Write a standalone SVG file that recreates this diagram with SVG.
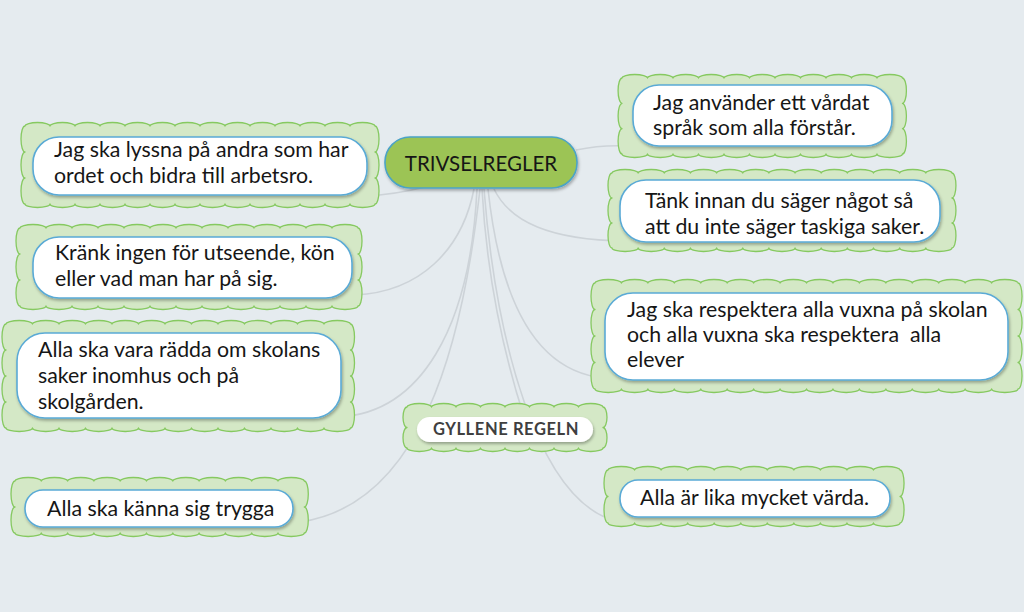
<svg xmlns="http://www.w3.org/2000/svg" width="1024" height="612" viewBox="0 0 1024 612">
<defs>
<filter id="sh" x="-10%" y="-20%" width="120%" height="160%"><feDropShadow dx="1" dy="2" stdDeviation="1.5" flood-color="#000" flood-opacity="0.3"/></filter>
<style>
.cloud{fill:#d4e8c6;stroke:#86c960;stroke-width:1.3;stroke-linejoin:round}
.pill{fill:#fff;stroke:#5aaad6;stroke-width:1.6;filter:url(#sh)}
.t{font-family:Lato,"Noto Sans","DejaVu Sans",sans-serif;font-size:21.3px;fill:#161616}
.c{fill:none;stroke:#cdd3d8;stroke-width:1.6}
</style>
</defs>
<rect width="1024" height="612" fill="#e5ebef"/>
<g id="connectors">
<path class="c" d="M425 187 C405 192 390 195 365 196"/>
<path class="c" d="M576 150 C595 146 608 145 628 146"/>
<path class="c" d="M494 189 C510 222 550 240 625 241"/>
<path class="c" d="M474 189 C462 250 420 292 355 295"/>
<path class="c" d="M477 189 C470 330 420 412 340 417"/>
<path class="c" d="M480 189 C462 350 420 505 300 522"/>
<path class="c" d="M482 189 C488 300 512 380 525 420"/>
<path class="c" d="M484 189 C495 330 535 505 620 522"/>
<path class="c" d="M488 189 C500 300 535 372 605 378"/>
</g>
<g id="center">
<rect x="385" y="137" width="192" height="51" rx="25" fill="#9cc454" stroke="#4ba3c6" stroke-width="1.6" filter="url(#sh)"/>
<text x="481" y="171" text-anchor="middle" class="t" style="font-size:20.5px">TRIVSELREGLER</text>
</g>
<g id="n1">
<path class="cloud" d="M25 126a12.5 3.5 0 0 1 25 0a12.5 3.5 0 0 1 25 0a12.5 3.5 0 0 1 25 0a12.5 3.5 0 0 1 25 0a12.5 3.5 0 0 1 25 0a12.5 3.5 0 0 1 25 0a12.5 3.5 0 0 1 25 0a12.5 3.5 0 0 1 25 0a12.5 3.5 0 0 1 25 0a12.5 3.5 0 0 1 25 0a12.5 3.5 0 0 1 25 0a12.5 3.5 0 0 1 25 0a12.5 3.5 0 0 1 25 0a12.5 3.5 0 0 1 25 0a4 13 0 0 1 0 26a4 13 0 0 1 0 26a4 13 0 0 1 0 26a12.5 3.5 0 0 1 -25 0a12.5 3.5 0 0 1 -25 0a12.5 3.5 0 0 1 -25 0a12.5 3.5 0 0 1 -25 0a12.5 3.5 0 0 1 -25 0a12.5 3.5 0 0 1 -25 0a12.5 3.5 0 0 1 -25 0a12.5 3.5 0 0 1 -25 0a12.5 3.5 0 0 1 -25 0a12.5 3.5 0 0 1 -25 0a12.5 3.5 0 0 1 -25 0a12.5 3.5 0 0 1 -25 0a12.5 3.5 0 0 1 -25 0a12.5 3.5 0 0 1 -25 0a4 13 0 0 1 0 -26a4 13 0 0 1 0 -26a4 13 0 0 1 0 -26z"/>
<rect class="pill" x="33" y="137" width="334" height="58" rx="26"/>
<text class="t" x="54" y="157">Jag ska lyssna på andra som har</text>
<text class="t" x="54" y="183">ordet och bidra till arbetsro.</text>
</g>
<g id="n2">
<path class="cloud" d="M20 228a13 3.5 0 0 1 26 0a13 3.5 0 0 1 26 0a13 3.5 0 0 1 26 0a13 3.5 0 0 1 26 0a13 3.5 0 0 1 26 0a13 3.5 0 0 1 26 0a13 3.5 0 0 1 26 0a13 3.5 0 0 1 26 0a13 3.5 0 0 1 26 0a13 3.5 0 0 1 26 0a13 3.5 0 0 1 26 0a13 3.5 0 0 1 26 0a13 3.5 0 0 1 26 0a4 13 0 0 1 0 26a4 13 0 0 1 0 26a4 13 0 0 1 0 26a13 3.5 0 0 1 -26 0a13 3.5 0 0 1 -26 0a13 3.5 0 0 1 -26 0a13 3.5 0 0 1 -26 0a13 3.5 0 0 1 -26 0a13 3.5 0 0 1 -26 0a13 3.5 0 0 1 -26 0a13 3.5 0 0 1 -26 0a13 3.5 0 0 1 -26 0a13 3.5 0 0 1 -26 0a13 3.5 0 0 1 -26 0a13 3.5 0 0 1 -26 0a13 3.5 0 0 1 -26 0a4 13 0 0 1 0 -26a4 13 0 0 1 0 -26a4 13 0 0 1 0 -26z"/>
<rect class="pill" x="33" y="237" width="319" height="61" rx="26"/>
<text class="t" x="55" y="260">Kränk ingen för utseende, kön</text>
<text class="t" x="55" y="286">eller vad man har på sig.</text>
</g>
<g id="n3">
<path class="cloud" d="M6 324a13.25 3.5 0 0 1 26.5 0a13.25 3.5 0 0 1 26.5 0a13.25 3.5 0 0 1 26.5 0a13.25 3.5 0 0 1 26.5 0a13.25 3.5 0 0 1 26.5 0a13.25 3.5 0 0 1 26.5 0a13.25 3.5 0 0 1 26.5 0a13.25 3.5 0 0 1 26.5 0a13.25 3.5 0 0 1 26.5 0a13.25 3.5 0 0 1 26.5 0a13.25 3.5 0 0 1 26.5 0a13.25 3.5 0 0 1 26.5 0a13.25 3.5 0 0 1 26.5 0a4 13 0 0 1 0 26a4 13 0 0 1 0 26a4 13 0 0 1 0 26a4 13 0 0 1 0 26a13.25 3.5 0 0 1 -26.5 0a13.25 3.5 0 0 1 -26.5 0a13.25 3.5 0 0 1 -26.5 0a13.25 3.5 0 0 1 -26.5 0a13.25 3.5 0 0 1 -26.5 0a13.25 3.5 0 0 1 -26.5 0a13.25 3.5 0 0 1 -26.5 0a13.25 3.5 0 0 1 -26.5 0a13.25 3.5 0 0 1 -26.5 0a13.25 3.5 0 0 1 -26.5 0a13.25 3.5 0 0 1 -26.5 0a13.25 3.5 0 0 1 -26.5 0a13.25 3.5 0 0 1 -26.5 0a4 13 0 0 1 0 -26a4 13 0 0 1 0 -26a4 13 0 0 1 0 -26a4 13 0 0 1 0 -26z"/>
<rect class="pill" x="17" y="333" width="324" height="85" rx="28"/>
<text class="t" x="38" y="357">Alla ska vara rädda om skolans</text>
<text class="t" x="38" y="383">saker inomhus och på</text>
<text class="t" x="38" y="409">skolgården.</text>
</g>
<g id="n4">
<path class="cloud" d="M15 481a13.15 3.5 0 0 1 26.3 0a13.15 3.5 0 0 1 26.3 0a13.15 3.5 0 0 1 26.3 0a13.15 3.5 0 0 1 26.3 0a13.15 3.5 0 0 1 26.3 0a13.15 3.5 0 0 1 26.3 0a13.15 3.5 0 0 1 26.3 0a13.15 3.5 0 0 1 26.3 0a13.15 3.5 0 0 1 26.3 0a13.15 3.5 0 0 1 26.3 0a13.15 3.5 0 0 1 26.3 0a4 13 0 0 1 0 26a4 13 0 0 1 0 26a13.15 3.5 0 0 1 -26.3 0a13.15 3.5 0 0 1 -26.3 0a13.15 3.5 0 0 1 -26.3 0a13.15 3.5 0 0 1 -26.3 0a13.15 3.5 0 0 1 -26.3 0a13.15 3.5 0 0 1 -26.3 0a13.15 3.5 0 0 1 -26.3 0a13.15 3.5 0 0 1 -26.3 0a13.15 3.5 0 0 1 -26.3 0a13.15 3.5 0 0 1 -26.3 0a13.15 3.5 0 0 1 -26.3 0a4 13 0 0 1 0 -26a4 13 0 0 1 0 -26z"/>
<rect class="pill" x="25" y="490" width="268" height="37" rx="18"/>
<text class="t" x="47" y="516">Alla ska känna sig trygga</text>
</g>
<g id="n5">
<path class="cloud" d="M622 78a12.75 3.5 0 0 1 25.5 0a12.75 3.5 0 0 1 25.5 0a12.75 3.5 0 0 1 25.5 0a12.75 3.5 0 0 1 25.5 0a12.75 3.5 0 0 1 25.5 0a12.75 3.5 0 0 1 25.5 0a12.75 3.5 0 0 1 25.5 0a12.75 3.5 0 0 1 25.5 0a12.75 3.5 0 0 1 25.5 0a12.75 3.5 0 0 1 25.5 0a12.75 3.5 0 0 1 25.5 0a4 12.67 0 0 1 0 25.333a4 12.67 0 0 1 0 25.333a4 12.67 0 0 1 0 25.334a12.75 3.5 0 0 1 -25.5 0a12.75 3.5 0 0 1 -25.5 0a12.75 3.5 0 0 1 -25.5 0a12.75 3.5 0 0 1 -25.5 0a12.75 3.5 0 0 1 -25.5 0a12.75 3.5 0 0 1 -25.5 0a12.75 3.5 0 0 1 -25.5 0a12.75 3.5 0 0 1 -25.5 0a12.75 3.5 0 0 1 -25.5 0a12.75 3.5 0 0 1 -25.5 0a12.75 3.5 0 0 1 -25.5 0a4 12.67 0 0 1 0 -25.333a4 12.67 0 0 1 0 -25.333a4 12.67 0 0 1 0 -25.334z"/>
<rect class="pill" x="633" y="85" width="259" height="61" rx="26"/>
<text class="t" x="653" y="110">Jag använder ett vårdat</text>
<text class="t" x="653" y="135">språk som alla förstår.</text>
</g>
<g id="n6">
<path class="cloud" d="M612 173a13.075 3.5 0 0 1 26.15 0a13.075 3.5 0 0 1 26.15 0a13.075 3.5 0 0 1 26.15 0a13.075 3.5 0 0 1 26.15 0a13.075 3.5 0 0 1 26.15 0a13.075 3.5 0 0 1 26.15 0a13.075 3.5 0 0 1 26.15 0a13.075 3.5 0 0 1 26.15 0a13.075 3.5 0 0 1 26.15 0a13.075 3.5 0 0 1 26.15 0a13.075 3.5 0 0 1 26.15 0a13.075 3.5 0 0 1 26.15 0a13.075 3.5 0 0 1 26.15 0a4 12.5 0 0 1 0 25a4 12.5 0 0 1 0 25a4 12.5 0 0 1 0 25a13.075 3.5 0 0 1 -26.15 0a13.075 3.5 0 0 1 -26.15 0a13.075 3.5 0 0 1 -26.15 0a13.075 3.5 0 0 1 -26.15 0a13.075 3.5 0 0 1 -26.15 0a13.075 3.5 0 0 1 -26.15 0a13.075 3.5 0 0 1 -26.15 0a13.075 3.5 0 0 1 -26.15 0a13.075 3.5 0 0 1 -26.15 0a13.075 3.5 0 0 1 -26.15 0a13.075 3.5 0 0 1 -26.15 0a13.075 3.5 0 0 1 -26.15 0a13.075 3.5 0 0 1 -26.15 0a4 12.5 0 0 1 0 -25a4 12.5 0 0 1 0 -25a4 12.5 0 0 1 0 -25z"/>
<rect class="pill" x="620" y="180" width="320" height="62" rx="26"/>
<text class="t" x="645" y="208">Tänk innan du säger något så</text>
<text class="t" x="645" y="234">att du inte säger taskiga saker.</text>
</g>
<g id="n7">
<path class="cloud" d="M595 283a13.22 3.5 0 0 1 26.44 0a13.22 3.5 0 0 1 26.44 0a13.22 3.5 0 0 1 26.44 0a13.22 3.5 0 0 1 26.44 0a13.22 3.5 0 0 1 26.44 0a13.22 3.5 0 0 1 26.44 0a13.22 3.5 0 0 1 26.44 0a13.22 3.5 0 0 1 26.44 0a13.22 3.5 0 0 1 26.44 0a13.22 3.5 0 0 1 26.44 0a13.22 3.5 0 0 1 26.44 0a13.22 3.5 0 0 1 26.44 0a13.22 3.5 0 0 1 26.44 0a13.22 3.5 0 0 1 26.44 0a13.22 3.5 0 0 1 26.44 0a13.22 3.5 0 0 1 26.44 0a4 13.25 0 0 1 0 26.5a4 13.25 0 0 1 0 26.5a4 13.25 0 0 1 0 26.5a4 13.25 0 0 1 0 26.5a13.22 3.5 0 0 1 -26.44 0a13.22 3.5 0 0 1 -26.44 0a13.22 3.5 0 0 1 -26.44 0a13.22 3.5 0 0 1 -26.44 0a13.22 3.5 0 0 1 -26.44 0a13.22 3.5 0 0 1 -26.44 0a13.22 3.5 0 0 1 -26.44 0a13.22 3.5 0 0 1 -26.44 0a13.22 3.5 0 0 1 -26.44 0a13.22 3.5 0 0 1 -26.44 0a13.22 3.5 0 0 1 -26.44 0a13.22 3.5 0 0 1 -26.44 0a13.22 3.5 0 0 1 -26.44 0a13.22 3.5 0 0 1 -26.44 0a13.22 3.5 0 0 1 -26.44 0a13.22 3.5 0 0 1 -26.44 0a4 13.25 0 0 1 0 -26.5a4 13.25 0 0 1 0 -26.5a4 13.25 0 0 1 0 -26.5a4 13.25 0 0 1 0 -26.5z"/>
<rect class="pill" x="605" y="293" width="403" height="87" rx="28"/>
<text class="t" x="627" y="317">Jag ska respektera alla vuxna på skolan</text>
<text class="t" x="627" y="342" xml:space="preserve">och alla vuxna ska respektera  alla</text>
<text class="t" x="627" y="367">elever</text>
</g>
<g id="n8">
<path class="cloud" d="M608 470a13.275 3.5 0 0 1 26.55 0a13.275 3.5 0 0 1 26.55 0a13.275 3.5 0 0 1 26.55 0a13.275 3.5 0 0 1 26.55 0a13.275 3.5 0 0 1 26.55 0a13.275 3.5 0 0 1 26.55 0a13.275 3.5 0 0 1 26.55 0a13.275 3.5 0 0 1 26.55 0a13.275 3.5 0 0 1 26.55 0a13.275 3.5 0 0 1 26.55 0a13.275 3.5 0 0 1 26.55 0a4 13.25 0 0 1 0 26.5a4 13.25 0 0 1 0 26.5a13.275 3.5 0 0 1 -26.55 0a13.275 3.5 0 0 1 -26.55 0a13.275 3.5 0 0 1 -26.55 0a13.275 3.5 0 0 1 -26.55 0a13.275 3.5 0 0 1 -26.55 0a13.275 3.5 0 0 1 -26.55 0a13.275 3.5 0 0 1 -26.55 0a13.275 3.5 0 0 1 -26.55 0a13.275 3.5 0 0 1 -26.55 0a13.275 3.5 0 0 1 -26.55 0a13.275 3.5 0 0 1 -26.55 0a4 13.25 0 0 1 0 -26.5a4 13.25 0 0 1 0 -26.5z"/>
<rect class="pill" x="620" y="480" width="270" height="37" rx="18"/>
<text class="t" x="640" y="505">Alla är lika mycket värda.</text>
</g>
<g id="n9">
<path class="cloud" d="M407 407a12.25 3.5 0 0 1 24.5 0a12.25 3.5 0 0 1 24.5 0a12.25 3.5 0 0 1 24.5 0a12.25 3.5 0 0 1 24.5 0a12.25 3.5 0 0 1 24.5 0a12.25 3.5 0 0 1 24.5 0a12.25 3.5 0 0 1 24.5 0a12.25 3.5 0 0 1 24.5 0a4 10.25 0 0 1 0 20.5a4 10.25 0 0 1 0 20.5a12.25 3.5 0 0 1 -24.5 0a12.25 3.5 0 0 1 -24.5 0a12.25 3.5 0 0 1 -24.5 0a12.25 3.5 0 0 1 -24.5 0a12.25 3.5 0 0 1 -24.5 0a12.25 3.5 0 0 1 -24.5 0a12.25 3.5 0 0 1 -24.5 0a12.25 3.5 0 0 1 -24.5 0a4 10.25 0 0 1 0 -20.5a4 10.25 0 0 1 0 -20.5z"/>
<rect x="417" y="417" width="176" height="25" rx="12.5" fill="#fff" filter="url(#sh)"/>
<text x="506" y="435" text-anchor="middle" class="t" style="font-size:16.5px;font-weight:bold;fill:#3f3f3f;letter-spacing:0.6px">GYLLENE REGELN</text>
</g>
</svg>
